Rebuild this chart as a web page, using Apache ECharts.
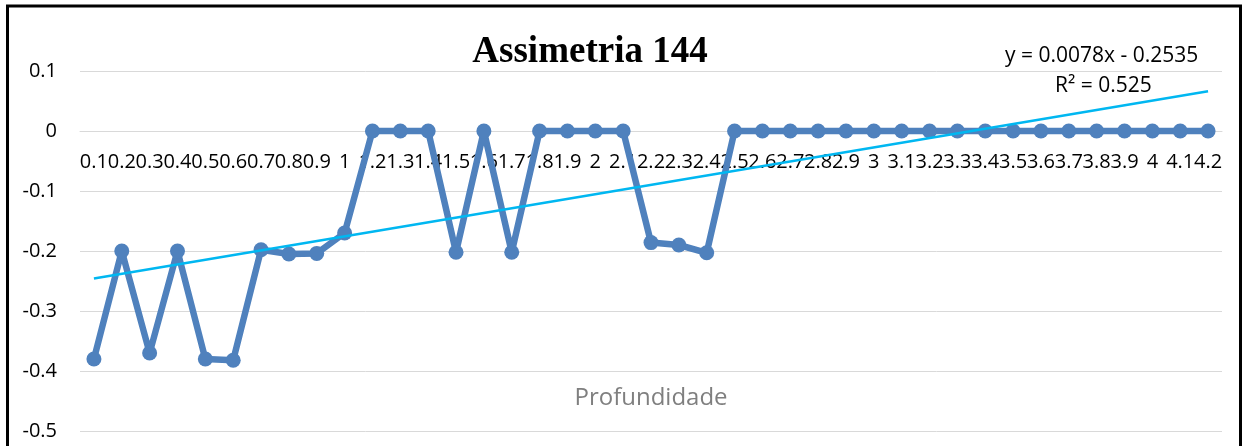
<!DOCTYPE html>
<html>
<head>
<meta charset="utf-8">
<title>Assimetria 144</title>
<script src="https://cdn.jsdelivr.net/npm/echarts@6/dist/echarts.min.js"></script>
<style>
  html, body { margin: 0; padding: 0; background: #fff; }
  #chart { width: 1243px; height: 446px; }
</style>
</head>
<body>
<div id="chart"></div>
<script>
// Depth categories (1.1 has no sample)
const profundidade = [
  '0.1', '0.2', '0.3', '0.4', '0.5', '0.6', '0.7', '0.8', '0.9', '1',
  '1.2', '1.3', '1.4', '1.5', '1.6', '1.7', '1.8', '1.9', '2',
  '2.1', '2.2', '2.3', '2.4', '2.5', '2.6', '2.7', '2.8', '2.9', '3',
  '3.1', '3.2', '3.3', '3.4', '3.5', '3.6', '3.7', '3.8', '3.9', '4',
  '4.1', '4.2'
];

// Skewness per depth
const assimetria = [
  -0.38, -0.2, -0.37, -0.2, -0.38, -0.382, -0.198, -0.205, -0.204, -0.17,
  0, 0, 0, -0.202, 0, -0.202, 0, 0, 0,
  0, -0.186, -0.19, -0.203, 0, 0, 0, 0, 0, 0,
  0, 0, 0, 0, 0, 0, 0, 0, 0, 0,
  0, 0
];

// Linear trend: y = 0.0078x - 0.2535 (x = point number, starting at 1)
const trendSlope = 0.0078;
const trendIntercept = -0.2535;
const trendR2 = 0.525;

// Value-axis ticks
const yTicks = [-0.5, -0.4, -0.3, -0.2, -0.1, 0, 0.1];

const n = profundidade.length;
const trendData = [
  [profundidade[0], trendSlope * 1 + trendIntercept],
  [profundidade[n - 1], trendSlope * n + trendIntercept]
];

const labelFont = '"Open Sans", "Noto Sans", sans-serif';

// plot area geometry
const gridTop = 71;
const gridBottom = 15;
const plotHeight = 446 - gridTop - gridBottom;
const yMin = yTicks[0];
const yMax = yTicks[yTicks.length - 1];
// category axis sits on the zero line
const zeroOffset = -plotHeight * (0 - yMin) / (yMax - yMin);

const chart = echarts.init(document.getElementById('chart'), null, { renderer: 'canvas' });

chart.setOption({
  animation: false,
  backgroundColor: '#ffffff',
  title: {
    text: 'Assimetria 144',
    left: 585,
    top: 29,
    textAlign: 'center',
    textStyle: {
      fontFamily: '"Liberation Serif", "DejaVu Serif", serif',
      fontWeight: 'bold',
      fontSize: 37,
      color: '#000000'
    }
  },
  grid: {
    left: 80, right: 21, top: gridTop, bottom: gridBottom,
    containLabel: false,
    outerBoundsMode: 'none'
  },
  xAxis: {
    type: 'category',
    data: profundidade,
    boundaryGap: true,
    position: 'bottom',
    offset: zeroOffset,
    name: 'Profundidade',
    nameLocation: 'middle',
    nameGap: 255,
    nameTextStyle: { fontFamily: labelFont, fontSize: 24, color: '#7f7f7f' },
    axisLine: { onZero: false, lineStyle: { color: '#d9d9d9', width: 1 } },
    axisTick: { show: false },
    axisLabel: {
      interval: 0,
      margin: 21,
      fontFamily: labelFont,
      fontSize: 20,
      color: '#000000'
    },
    splitLine: { show: false }
  },
  yAxis: {
    type: 'value',
    min: yMin,
    max: yMax,
    interval: 0.1,
    axisLine: { show: false },
    axisTick: { show: false },
    axisLabel: {
      margin: 23,
      fontFamily: labelFont,
      fontSize: 20,
      color: '#000000',
      formatter: v => String(Math.round(v * 10) / 10)
    },
    splitLine: { lineStyle: { color: '#d9d9d9', width: 1 } }
  },
  series: [
    {
      name: 'Assimetria',
      type: 'line',
      data: assimetria,
      symbol: 'circle',
      symbolSize: 15,
      lineStyle: { color: '#4f81bd', width: 6.5 },
      itemStyle: { color: '#4f81bd' },
      z: 2
    },
    {
      name: 'Tendência',
      type: 'line',
      data: trendData,
      symbol: 'none',
      lineStyle: { color: '#00b7f1', width: 2.5 },
      z: 3
    }
  ],
  graphic: [
    {
      type: 'text',
      left: 1005,
      top: 46,
      z: 10,
      style: {
        text: 'y = ' + trendSlope + 'x - ' + Math.abs(trendIntercept),
        font: '21px ' + labelFont,
        fill: '#000000'
      }
    },
    {
      type: 'text',
      left: 1055,
      top: 76,
      z: 10,
      style: {
        text: 'R² = ' + trendR2,
        font: '21px ' + labelFont,
        fill: '#000000'
      }
    },
    {
      type: 'rect',
      silent: true,
      z: 20,
      shape: { x: 7.5, y: 6, width: 1233, height: 500 },
      style: { fill: 'none', stroke: '#000000', lineWidth: 3 }
    }
  ]
});
</script>
</body>
</html>
